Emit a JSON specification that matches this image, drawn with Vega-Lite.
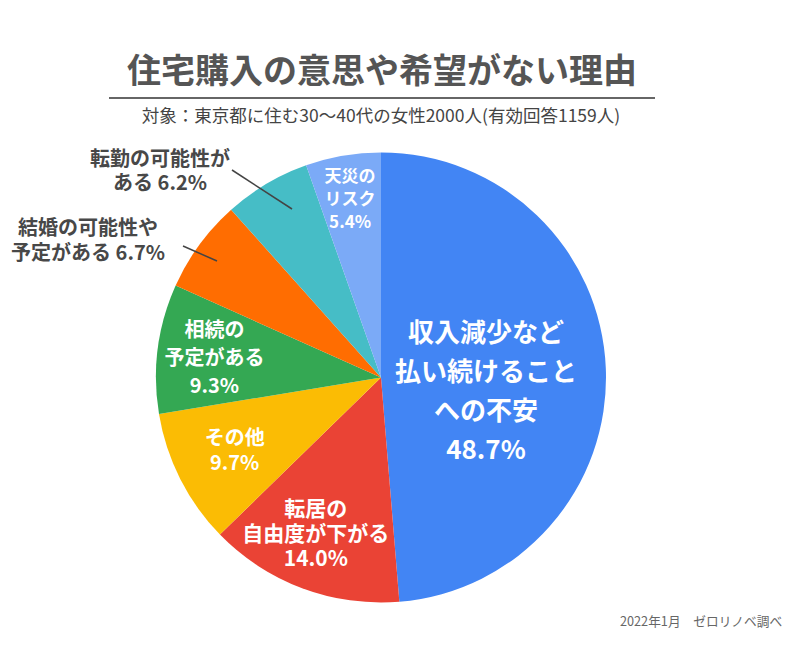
{
  "$schema": "https://vega.github.io/schema/vega-lite/v6.json",
  "width": 762,
  "height": 555,
  "autosize": {"type": "none"},
  "padding": {"top": 100, "left": 0, "right": 38, "bottom": 0},
  "background": "white",
  "config": {"view": {"stroke": null}, "font": "Noto Sans CJK JP"},
  "data": {
    "values": [
      {"idx": 1, "cat": "収入減少など払い続けることへの不安", "value": 48.7, "label": "収入減少など\n払い続けること\nへの不安\n48.7%"},
      {"idx": 2, "cat": "転居の自由度が下がる", "value": 14.0, "label": "転居の\n自由度が下がる\n14.0%"},
      {"idx": 3, "cat": "その他", "value": 9.7, "label": "その他\n9.7%"},
      {"idx": 4, "cat": "相続の予定がある", "value": 9.3, "label": "相続の\n予定がある\n9.3%"},
      {"idx": 5, "cat": "結婚の可能性や予定がある", "value": 6.7, "label": "結婚の可能性や\n予定がある 6.7%"},
      {"idx": 6, "cat": "転勤の可能性がある", "value": 6.2, "label": "転勤の可能性が\nある 6.2%"},
      {"idx": 7, "cat": "天災のリスク", "value": 5.4, "label": "天災の\nリスク\n5.4%"}
    ]
  },
  "layer": [
    {
      "mark": {"type": "arc", "outerRadius": 225},
      "encoding": {
        "theta": {"field": "value", "type": "quantitative", "stack": true},
        "order": {"field": "idx", "type": "quantitative"},
        "color": {
          "field": "cat",
          "type": "nominal",
          "legend": null,
          "scale": {
            "domain": ["収入減少など払い続けることへの不安", "転居の自由度が下がる", "その他", "相続の予定がある", "結婚の可能性や予定がある", "転勤の可能性がある", "天災のリスク"],
            "range": ["#4285F4", "#EA4335", "#FBBC04", "#34A853", "#FF6D01", "#46BDC6", "#7BAAF7"]
          }
        }
      }
    },
    {
      "mark": {"type": "text", "radius": 105, "dy": -39, "fontSize": 26, "fontWeight": "bold", "lineHeight": 39, "lineBreak": "\n", "fill": "white", "align": "center", "baseline": "middle"},
      "encoding": {
        "theta": {"field": "value", "type": "quantitative", "stack": true},
        "order": {"field": "idx", "type": "quantitative"},
        "detail": {"field": "cat", "type": "nominal"},
        "text": {"condition": {"test": "datum.idx === 1", "field": "label"}, "value": ""}
      }
    },
    {
      "mark": {"type": "text", "radius": 163, "dx": -8, "dy": -20, "fontSize": 21, "fontWeight": "bold", "lineHeight": 25, "lineBreak": "\n", "fill": "white", "align": "center", "baseline": "middle"},
      "encoding": {
        "theta": {"field": "value", "type": "quantitative", "stack": true},
        "order": {"field": "idx", "type": "quantitative"},
        "detail": {"field": "cat", "type": "nominal"},
        "text": {"condition": {"test": "datum.idx === 2", "field": "label"}, "value": ""}
      }
    },
    {
      "mark": {"type": "text", "radius": 164, "dy": -12.5, "fontSize": 20, "fontWeight": "bold", "lineHeight": 25, "lineBreak": "\n", "fill": "white", "align": "center", "baseline": "middle"},
      "encoding": {
        "theta": {"field": "value", "type": "quantitative", "stack": true},
        "order": {"field": "idx", "type": "quantitative"},
        "detail": {"field": "cat", "type": "nominal"},
        "text": {"condition": {"test": "datum.idx === 3", "field": "label"}, "value": ""}
      }
    },
    {
      "mark": {"type": "text", "radius": 168, "dy": -25, "fontSize": 20, "fontWeight": "bold", "lineHeight": 28, "lineBreak": "\n", "fill": "white", "align": "center", "baseline": "middle"},
      "encoding": {
        "theta": {"field": "value", "type": "quantitative", "stack": true},
        "order": {"field": "idx", "type": "quantitative"},
        "detail": {"field": "cat", "type": "nominal"},
        "text": {"condition": {"test": "datum.idx === 4", "field": "label"}, "value": ""}
      }
    },
    {
      "mark": {"type": "text", "radius": 183, "dy": -20, "fontSize": 17, "fontWeight": "bold", "lineHeight": 23, "lineBreak": "\n", "fill": "white", "align": "center", "baseline": "middle"},
      "encoding": {
        "theta": {"field": "value", "type": "quantitative", "stack": true},
        "order": {"field": "idx", "type": "quantitative"},
        "detail": {"field": "cat", "type": "nominal"},
        "text": {"condition": {"test": "datum.idx === 7", "field": "label"}, "value": ""}
      }
    },
    {
      "transform": [{"filter": "datum.idx === 6"}],
      "mark": {"type": "text", "fontSize": 20, "fontWeight": "bold", "lineHeight": 24, "lineBreak": "\n", "fill": "#484848", "align": "center", "baseline": "middle"},
      "encoding": {
        "x": {"value": 160},
        "y": {"value": 59.5},
        "text": {"field": "label"}
      }
    },
    {
      "transform": [{"filter": "datum.idx === 5"}],
      "mark": {"type": "text", "fontSize": 20, "fontWeight": "bold", "lineHeight": 25, "lineBreak": "\n", "fill": "#484848", "align": "center", "baseline": "middle"},
      "encoding": {
        "x": {"value": 88},
        "y": {"value": 128.5},
        "text": {"field": "label"}
      }
    },
    {
      "data": {"values": [{}]},
      "mark": {"type": "rule", "stroke": "#444444", "strokeWidth": 1.5},
      "encoding": {"x": {"value": 232}, "y": {"value": 70}, "x2": {"value": 292}, "y2": {"value": 109}}
    },
    {
      "data": {"values": [{}]},
      "mark": {"type": "rule", "stroke": "#444444", "strokeWidth": 1.5},
      "encoding": {"x": {"value": 183}, "y": {"value": 146}, "x2": {"value": 217}, "y2": {"value": 161}}
    },
    {
      "data": {"values": [{"t": "住宅購入の意思や希望がない理由"}]},
      "mark": {"type": "text", "fontSize": 34, "fontWeight": "bold", "fill": "#555555", "align": "center", "baseline": "middle"},
      "encoding": {"x": {"value": 382}, "y": {"value": -27}, "text": {"field": "t"}}
    },
    {
      "data": {"values": [{}]},
      "mark": {"type": "rule", "stroke": "#666666", "strokeWidth": 2},
      "encoding": {"x": {"value": 109}, "x2": {"value": 655}, "y": {"value": -2}}
    },
    {
      "data": {"values": [{"t": "対象：東京都に住む30〜40代の女性2000人(有効回答1159人)"}]},
      "mark": {"type": "text", "fontSize": 17.5, "fill": "#444444", "align": "center", "baseline": "middle"},
      "encoding": {"x": {"value": 381}, "y": {"value": 17}, "text": {"field": "t"}}
    },
    {
      "data": {"values": [{"t": "2022年1月　ゼロリノベ調べ"}]},
      "mark": {"type": "text", "fontSize": 12.7, "fill": "#666666", "align": "left", "baseline": "middle"},
      "encoding": {"x": {"value": 620}, "y": {"value": 522}, "text": {"field": "t"}}
    }
  ]
}
